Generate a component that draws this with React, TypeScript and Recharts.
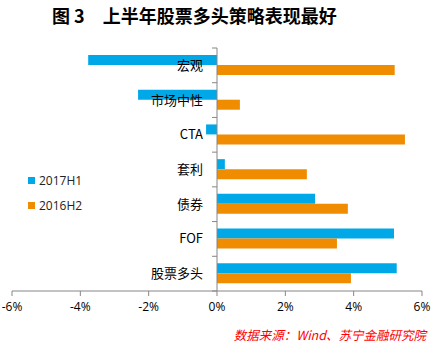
import React from 'react';
import {
  Bar,
  BarChart,
  Legend,
  ReferenceLine,
  XAxis,
  YAxis,
} from 'recharts';

const categories = ['宏观', '市场中性', 'CTA', '套利', '债券', 'FOF', '股票多头'];
const h1_2017 = [-3.77, -2.31, -0.32, 0.23, 2.87, 5.18, 5.26];
const h2_2016 = [5.2, 0.67, 5.5, 2.63, 3.83, 3.51, 3.92];
const xTicks = [-6, -4, -2, 0, 2, 4, 6];

const BLUE = '#00a8e8';
const ORANGE = '#f08c00';
const AXIS = '#868686';

const W = 438;
const H = 346;
const PLOT_LEFT = 12;
const PLOT_RIGHT = 422;
const PLOT_TOP = 48;
const PLOT_BOTTOM = 291;
const X_AXIS_H = 30;
const Y_AXIS_W = 10;
const ZERO_X = (PLOT_LEFT + PLOT_RIGHT) / 2;
const BAND = (PLOT_BOTTOM - PLOT_TOP) / categories.length;

const data = categories.map((name, i) => ({
  name,
  '2017H1': h1_2017[i],
  '2016H2': h2_2016[i],
}));

const CategoryTick = (props: any) => {
  const { y, payload, index } = props;
  const last = index === categories.length - 1;
  return (
    <g>
      <line x1={ZERO_X - 5} x2={ZERO_X} y1={y - BAND / 2} y2={y - BAND / 2} stroke={AXIS} />
      {last && (
        <line x1={ZERO_X - 5} x2={ZERO_X} y1={y + BAND / 2} y2={y + BAND / 2} stroke={AXIS} />
      )}
      <text
        x={ZERO_X - 14}
        y={y}
        dy="0.35em"
        textAnchor="end"
        fontSize={13}
        fill="#000"
        fontFamily="'Noto Sans CJK SC', sans-serif"
      >
        {payload.value}
      </text>
    </g>
  );
};

const legendItems = [
  { value: '2017H1', color: BLUE },
  { value: '2016H2', color: ORANGE },
];

const CustomLegend: React.FC = () => (
  <div style={{ fontFamily: "'Open Sans', sans-serif", fontSize: 12, color: '#222' }}>
    {legendItems.map((entry, index) => (
      <div
        key={`item-${index}`}
        style={{ display: 'flex', alignItems: 'center', height: 25 }}
      >
        <span
          style={{
            backgroundColor: entry.color,
            width: 7,
            height: 7,
            display: 'inline-block',
            marginRight: 4,
          }}
        ></span>
        <span>{entry.value}</span>
      </div>
    ))}
  </div>
);

const App: React.FC = () => {
  return (
    <div
      style={{
        position: 'absolute',
        left: 0,
        top: 0,
        width: W,
        height: H,
        background: '#fff',
        fontFamily: "'Noto Sans CJK SC', sans-serif",
      }}
    >
      <div
        style={{
          position: 'absolute',
          left: 52,
          top: 4,
          fontSize: 18,
          fontWeight: 'bold',
          color: '#000',
          whiteSpace: 'pre',
          lineHeight: '22px',
        }}
      >
        图 3　上半年股票多头策略表现最好
      </div>
      <BarChart
        width={W}
        height={H}
        data={data}
        layout="vertical"
        barSize={10}
        barGap={0}
        margin={{
          top: PLOT_TOP,
          right: W - PLOT_RIGHT,
          bottom: H - PLOT_BOTTOM - X_AXIS_H,
          left: PLOT_LEFT - Y_AXIS_W,
        }}
      >
        <XAxis
          type="number"
          domain={[-6, 6]}
          ticks={xTicks}
          tickFormatter={(v) => `${v}%`}
          height={X_AXIS_H}
          axisLine={{ stroke: AXIS }}
          tickLine={{ stroke: AXIS }}
          tickSize={5}
          tickMargin={6}
          tick={{ fill: '#000', fontSize: 12, fontFamily: "'Open Sans', sans-serif" }}
        />
        <Bar dataKey="2017H1" fill={BLUE} isAnimationActive={false} />
        <Bar dataKey="2016H2" fill={ORANGE} isAnimationActive={false} />
        <ReferenceLine x={0} stroke={AXIS} />
        <YAxis
          type="category"
          dataKey="name"
          width={Y_AXIS_W}
          axisLine={false}
          tickLine={false}
          tick={<CategoryTick />}
          interval={0}
        />
        <Legend
          layout="horizontal"
          verticalAlign="middle"
          content={<CustomLegend />}
          wrapperStyle={{ left: 28, top: 168, width: 'auto' }}
        />
      </BarChart>
      <div
        style={{
          position: 'absolute',
          right: 12,
          top: 326,
          fontSize: 12.5,
          fontStyle: 'italic',
          color: '#ff0000',
          whiteSpace: 'pre',
          lineHeight: '18px',
        }}
      >
        数据来源：Wind、苏宁金融研究院
      </div>
    </div>
  );
};

export default App;
